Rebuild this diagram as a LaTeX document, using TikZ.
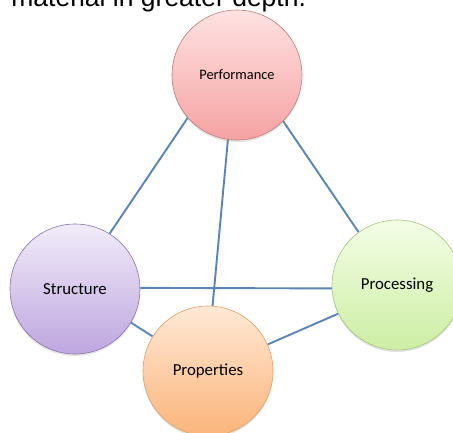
\documentclass[tikz,border=0pt]{standalone}
\usepackage{fontspec}
\setmainfont{Carlito}
\newfontfamily\arialfont{Liberation Sans}
\usetikzlibrary{shadows,backgrounds}
\definecolor{linkc}{HTML}{5A84B4}
\definecolor{perfT}{HTML}{FFE2E2}
\definecolor{perfB}{HTML}{F5A2A2}
\definecolor{perfD}{HTML}{C27C7A}
\definecolor{strT}{HTML}{F1ECF9}
\definecolor{strB}{HTML}{BEA6DF}
\definecolor{strD}{HTML}{8C74AE}
\definecolor{proT}{HTML}{F3FDE6}
\definecolor{proB}{HTML}{CDEEA4}
\definecolor{proD}{HTML}{A6C57E}
\definecolor{prpT}{HTML}{FFE9D6}
\definecolor{prpB}{HTML}{FBB47A}
\definecolor{prpD}{HTML}{DFA06E}
\tikzset{
  ball/.style={circle, minimum size=130pt, inner sep=0pt, line width=0.6pt,
    font=\fontsize{16.8pt}{18pt}\selectfont, text=black,
    drop shadow={opacity=0.22, shadow xshift=0pt, shadow yshift=-2pt}},
  link/.style={draw=linkc, line width=1.9pt},
}
\begin{document}
\begin{tikzpicture}[x=1pt,y=-1pt]
\useasboundingbox (0,0) rectangle (453,432);
\clip (0,0) rectangle (453,432);
\node[anchor=base west, font=\arialfont\fontsize{26.5pt}{30pt}\selectfont, inner sep=0pt] (toptext) at (-5,6.5) {r material in greater depth.};
\node[ball, draw=perfD, top color=perfT, bottom color=perfB, font=\fontsize{14.4pt}{16pt}\selectfont] (perf) at (237,75) {Performance};
\node[ball, draw=strD, top color=strT, bottom color=strB] (struct) at (75,289) {Structure};
\node[ball, draw=proD, top color=proT, bottom color=proB] (proc) at (397,285) {Processing};
\node[ball, draw=prpD, top color=prpT, bottom color=prpB] (prop) at (208,371) {Properties};
\begin{scope}[on background layer]
\draw[link] (perf.221) -- (struct.58);
\draw[link] (perf.262) -- (prop.86);
\draw[link] (perf.315) -- (proc.126);
\draw[link] (struct.1) -- (proc.183);
\draw[link] (struct.329) -- (prop.148);
\draw[link] (prop.24) -- (proc.206);
\end{scope}
\end{tikzpicture}
\end{document}
